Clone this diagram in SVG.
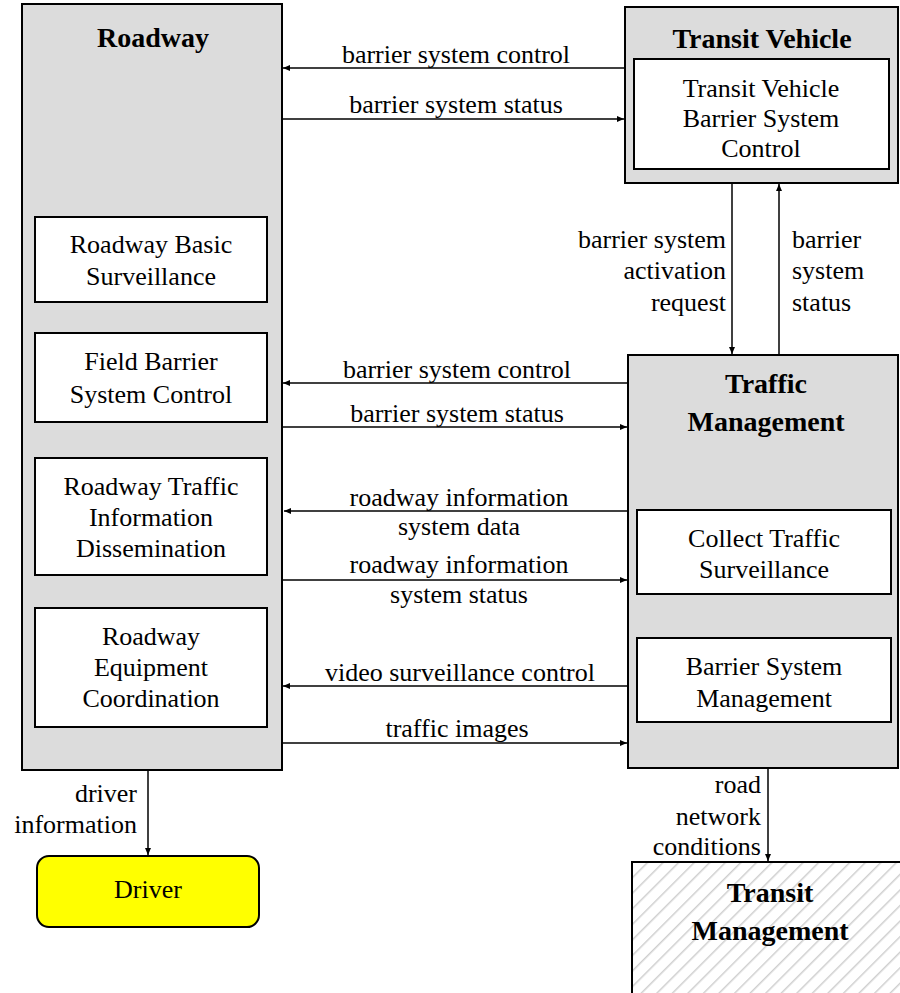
<svg xmlns="http://www.w3.org/2000/svg" width="900" height="993" viewBox="0 0 900 993">
<defs>
<style>
.outer{fill:#dcdcdc;stroke:#000;stroke-width:2}
.inner{fill:#fff;stroke:#000;stroke-width:2}
.t{font-family:"Liberation Serif","Times New Roman",serif;font-size:26px;fill:#000}
.c{text-anchor:middle}
.e{text-anchor:end}
.b{font-weight:bold;font-size:28px}
.ln{stroke:#000;stroke-width:1.5;fill:none;marker-end:url(#ah)}
</style>
<marker id="ah" markerUnits="userSpaceOnUse" markerWidth="8" markerHeight="6" refX="7" refY="3" orient="auto">
<path d="M0,0 L7,3 L0,6 Z" fill="#000"/>
</marker>
<pattern id="hatch" patternUnits="userSpaceOnUse" width="11" height="11" patternTransform="rotate(45)">
<rect width="11" height="11" fill="#fff"/>
<line x1="0" y1="0" x2="0" y2="11" stroke="#cfcfcf" stroke-width="3"/>
</pattern>
</defs>

<g id="roadway">
<rect class="outer" x="22" y="4" width="260" height="766"/>
<text class="t b c" x="153" y="47">Roadway</text>
</g>
<g id="roadway-basic-surveillance">
<rect class="inner" x="35" y="217" width="232" height="85"/>
<text class="t c" x="151" y="253">Roadway Basic</text>
<text class="t c" x="151" y="285">Surveillance</text>
</g>
<g id="field-barrier-system-control">
<rect class="inner" x="35" y="333" width="232" height="89"/>
<text class="t c" x="151" y="370">Field Barrier</text>
<text class="t c" x="151" y="403">System Control</text>
</g>
<g id="roadway-traffic-information-dissemination">
<rect class="inner" x="35" y="458" width="232" height="117"/>
<text class="t c" x="151" y="495">Roadway Traffic</text>
<text class="t c" x="151" y="526">Information</text>
<text class="t c" x="151" y="557">Dissemination</text>
</g>
<g id="roadway-equipment-coordination">
<rect class="inner" x="35" y="608" width="232" height="119"/>
<text class="t c" x="151" y="645">Roadway</text>
<text class="t c" x="151" y="676">Equipment</text>
<text class="t c" x="151" y="707">Coordination</text>
</g>

<g id="transit-vehicle">
<rect class="outer" x="625" y="7" width="273" height="176"/>
<text class="t b c" x="762" y="48">Transit Vehicle</text>
</g>
<g id="transit-vehicle-barrier-system-control">
<rect class="inner" x="634" y="59" width="255" height="110"/>
<text class="t c" x="761" y="97">Transit Vehicle</text>
<text class="t c" x="761" y="127">Barrier System</text>
<text class="t c" x="761" y="157">Control</text>
</g>

<g id="traffic-management">
<rect class="outer" x="628" y="355" width="270" height="413"/>
<text class="t b c" x="766" y="393">Traffic</text>
<text class="t b c" x="766" y="431">Management</text>
</g>
<g id="collect-traffic-surveillance">
<rect class="inner" x="637" y="510" width="254" height="84"/>
<text class="t c" x="764" y="547">Collect Traffic</text>
<text class="t c" x="764" y="578">Surveillance</text>
</g>
<g id="barrier-system-management">
<rect class="inner" x="637" y="638" width="254" height="84"/>
<text class="t c" x="764" y="675">Barrier System</text>
<text class="t c" x="764" y="707">Management</text>
</g>

<g id="driver">
<rect x="37" y="856" width="222" height="71" rx="12" ry="12" fill="#ffff00" stroke="#000" stroke-width="2"/>
<text class="t c" x="148" y="898">Driver</text>
</g>

<g id="transit-management">
<rect x="632" y="862" width="290" height="150" fill="url(#hatch)" stroke="#000" stroke-width="2"/>
<text class="t b c" x="770" y="902">Transit</text>
<text class="t b c" x="770" y="940">Management</text>
</g>

<g id="connectors">
<line class="ln" x1="625" y1="68" x2="283" y2="68"/>
<text class="t c" x="456" y="63">barrier system control</text>
<line class="ln" x1="282" y1="119" x2="624" y2="119"/>
<text class="t c" x="456" y="113">barrier system status</text>

<line class="ln" x1="732" y1="183" x2="732" y2="354"/>
<text class="t e" x="726" y="248">barrier system</text>
<text class="t e" x="726" y="279">activation</text>
<text class="t e" x="726" y="311">request</text>
<line class="ln" x1="779" y1="355" x2="779" y2="184"/>
<text class="t" x="792" y="248">barrier</text>
<text class="t" x="792" y="279">system</text>
<text class="t" x="792" y="311">status</text>

<line class="ln" x1="628" y1="383" x2="283" y2="383"/>
<text class="t c" x="457" y="378">barrier system control</text>
<line class="ln" x1="282" y1="427" x2="627" y2="427"/>
<text class="t c" x="457" y="422">barrier system status</text>

<line class="ln" x1="628" y1="511" x2="284" y2="511"/>
<text class="t c" x="459" y="506">roadway information</text>
<text class="t c" x="459" y="535">system data</text>
<line class="ln" x1="282" y1="580" x2="627" y2="580"/>
<text class="t c" x="459" y="573">roadway information</text>
<text class="t c" x="459" y="603">system status</text>

<line class="ln" x1="628" y1="686" x2="283" y2="686"/>
<text class="t c" x="460" y="681">video surveillance control</text>
<line class="ln" x1="282" y1="743" x2="627" y2="743"/>
<text class="t c" x="457" y="737">traffic images</text>

<line class="ln" x1="148" y1="770" x2="148" y2="855"/>
<text class="t e" x="137" y="802">driver</text>
<text class="t e" x="137" y="833">information</text>

<line class="ln" x1="768" y1="768" x2="768" y2="861"/>
<text class="t e" x="761" y="793">road</text>
<text class="t e" x="761" y="825">network</text>
<text class="t e" x="761" y="855">conditions</text>
</g>
</svg>
